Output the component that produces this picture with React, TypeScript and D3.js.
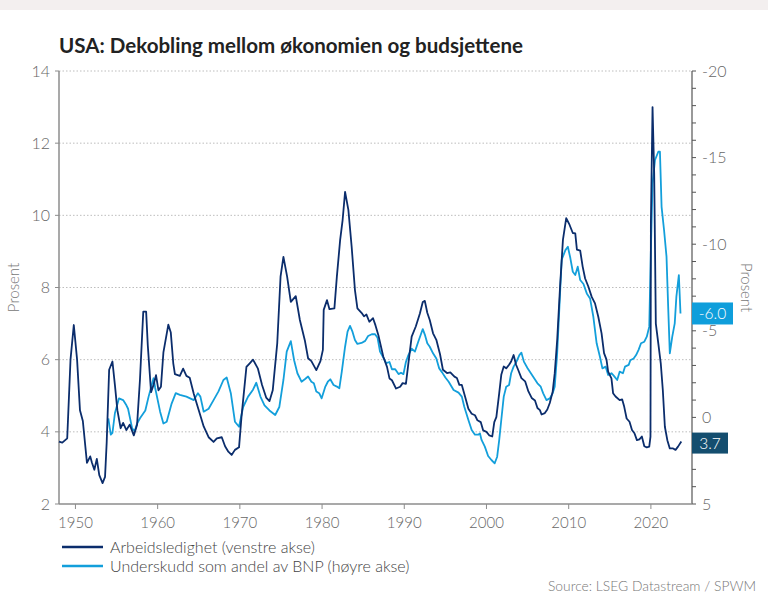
import React from "react";
import * as d3 from "d3";

// Unemployment rate, % (left axis) — [year, value]
const unemployment: [number, number][] = [
  [1948.0, 3.73], [1948.4, 3.7], [1949.0, 3.82], [1949.4, 6.0], [1949.8, 6.96],
  [1950.2, 6.0], [1950.55, 4.6], [1950.9, 4.3], [1951.4, 3.14], [1951.8, 3.32],
  [1952.0, 3.15], [1952.3, 2.95], [1952.6, 3.25], [1952.9, 2.8], [1953.3, 2.58],
  [1953.6, 2.75], [1953.8, 3.7], [1954.1, 5.72], [1954.5, 5.95], [1954.8, 5.3],
  [1955.1, 4.6], [1955.5, 4.1], [1955.8, 4.25], [1956.2, 4.05], [1956.6, 4.2],
  [1957.1, 3.9], [1957.5, 4.2], [1957.85, 5.45], [1958.25, 7.33], [1958.6, 7.33],
  [1958.8, 6.4], [1959.2, 5.1], [1959.5, 5.3], [1959.8, 5.57], [1960.1, 5.15],
  [1960.4, 5.25], [1960.7, 6.2], [1961.3, 6.97], [1961.6, 6.75], [1961.9, 5.9],
  [1962.1, 5.6], [1962.7, 5.55], [1963.1, 5.75], [1963.5, 5.55], [1963.9, 5.5],
  [1964.4, 5.05], [1965.0, 4.6], [1965.6, 4.15], [1966.2, 3.85], [1966.8, 3.72],
  [1967.2, 3.82], [1967.8, 3.85], [1968.2, 3.6], [1968.6, 3.45], [1969.0, 3.36],
  [1969.4, 3.5], [1969.9, 3.57], [1970.2, 4.42], [1970.8, 5.8], [1971.2, 5.9],
  [1971.6, 6.0], [1972.2, 5.75], [1972.7, 5.3], [1973.2, 4.95], [1973.6, 4.85],
  [1974.0, 5.15], [1974.55, 6.46], [1974.95, 8.3], [1975.3, 8.85], [1975.75, 8.3],
  [1976.2, 7.6], [1976.8, 7.76], [1977.3, 7.1], [1977.9, 6.54], [1978.3, 6.04],
  [1978.7, 5.96], [1979.3, 5.71], [1979.8, 5.96], [1980.1, 6.27], [1980.2, 7.38],
  [1980.6, 7.65], [1980.9, 7.4], [1981.5, 7.42], [1981.8, 8.3], [1982.2, 9.32],
  [1982.5, 9.87], [1982.8, 10.65], [1983.2, 10.15], [1983.6, 9.13], [1984.0, 7.93],
  [1984.3, 7.42], [1984.8, 7.3], [1985.1, 7.2], [1985.4, 7.25], [1985.75, 7.05],
  [1986.2, 7.15], [1986.5, 6.95], [1986.85, 6.68], [1987.45, 6.08], [1987.9, 5.8],
  [1988.2, 5.48], [1988.5, 5.43], [1989.0, 5.2], [1989.5, 5.25], [1989.8, 5.35],
  [1990.2, 5.33], [1990.5, 5.9], [1990.9, 6.64], [1991.4, 6.92], [1991.9, 7.28],
  [1992.25, 7.6], [1992.5, 7.63], [1992.8, 7.3], [1993.1, 7.1], [1993.5, 6.73],
  [1993.9, 6.55], [1994.35, 6.15], [1994.7, 5.72], [1995.2, 5.63], [1995.6, 5.65],
  [1996.1, 5.53], [1996.4, 5.49], [1996.7, 5.3], [1997.0, 5.3], [1997.4, 4.97],
  [1997.8, 4.64], [1998.2, 4.5], [1998.6, 4.46], [1998.9, 4.32], [1999.3, 4.27],
  [1999.6, 4.04], [2000.0, 4.0], [2000.35, 3.9], [2000.7, 3.87], [2000.95, 4.27],
  [2001.2, 4.41], [2001.55, 5.07], [2001.8, 5.58], [2002.1, 5.81], [2002.4, 5.76],
  [2002.75, 5.86], [2003.0, 5.95], [2003.3, 6.13], [2003.6, 5.86], [2003.85, 5.72],
  [2004.25, 5.49], [2004.7, 5.4], [2005.1, 5.12], [2005.5, 4.94], [2005.9, 4.87],
  [2006.2, 4.66], [2006.5, 4.6], [2006.7, 4.48], [2007.1, 4.52], [2007.4, 4.62],
  [2007.7, 4.8], [2008.05, 5.11], [2008.3, 5.62], [2008.6, 6.54], [2008.95, 8.02],
  [2009.3, 9.32], [2009.7, 9.92], [2010.1, 9.74], [2010.5, 9.51], [2010.8, 9.5],
  [2011.0, 9.05], [2011.4, 9.02], [2011.7, 8.58], [2012.0, 8.25], [2012.4, 8.02],
  [2012.8, 7.74], [2013.2, 7.56], [2013.6, 7.19], [2014.0, 6.73], [2014.3, 6.18],
  [2014.6, 6.0], [2014.8, 5.67], [2015.2, 5.48], [2015.4, 5.07], [2015.7, 4.98],
  [2016.2, 4.88], [2016.5, 4.9], [2016.75, 4.7], [2017.05, 4.37], [2017.4, 4.28],
  [2017.7, 4.05], [2018.0, 3.96], [2018.3, 3.77], [2018.6, 3.79], [2018.9, 3.87],
  [2019.2, 3.6], [2019.5, 3.57], [2019.8, 3.59], [2019.95, 3.87], [2020.0, 9.78],
  [2020.2, 13.0], [2020.4, 11.16], [2020.6, 7.0], [2020.9, 6.45], [2021.2, 5.9],
  [2021.45, 5.16], [2021.7, 4.14], [2022.0, 3.77], [2022.3, 3.54], [2022.7, 3.54],
  [2023.0, 3.5], [2023.3, 3.59], [2023.7, 3.73],
];

// Budget balance, % of GDP (right axis, inverted) — [year, value]
const deficit: [number, number][] = [
  [1954.0, 0.05], [1954.3, 1.0], [1954.5, 0.9], [1954.8, -0.24], [1955.3, -1.1],
  [1955.8, -1.0], [1956.2, -0.7], [1956.4, -0.5], [1956.9, 0.63], [1957.2, 0.8],
  [1957.5, 0.35], [1957.85, 0.05], [1958.5, -0.4], [1958.9, -1.2], [1959.5, -2.26],
  [1959.7, -1.7], [1960.3, -0.33], [1960.7, 0.35], [1961.1, 0.25], [1961.7, -0.8],
  [1962.2, -1.4], [1962.7, -1.3], [1963.5, -1.2], [1964.4, -1.0], [1964.9, -1.4],
  [1965.2, -1.2], [1965.6, -0.33], [1966.2, -0.5], [1966.8, -1.0], [1967.4, -1.5],
  [1968.0, -2.16], [1968.4, -2.3], [1968.9, -1.4], [1969.4, 0.25], [1969.9, 0.54],
  [1970.4, -0.6], [1971.0, -1.2], [1971.6, -1.6], [1972.0, -2.0], [1972.5, -1.2],
  [1973.0, -0.7], [1973.6, -0.4], [1974.3, -0.14], [1974.8, -0.6], [1975.3, -2.16],
  [1975.7, -3.8], [1976.2, -4.4], [1976.6, -3.3], [1977.0, -2.55], [1977.5, -2.06],
  [1977.9, -2.2], [1978.3, -2.36], [1978.7, -2.06], [1979.0, -1.97], [1979.3, -1.5],
  [1979.65, -1.4], [1979.95, -1.1], [1980.4, -1.78], [1980.7, -2.06], [1981.0, -2.2],
  [1981.4, -1.87], [1981.8, -1.78], [1982.1, -1.68], [1982.4, -2.64], [1982.8, -4.08],
  [1983.1, -4.95], [1983.4, -5.28], [1983.7, -4.95], [1984.0, -4.47], [1984.3, -4.24],
  [1984.8, -4.3], [1985.25, -4.42], [1985.6, -4.7], [1986.05, -4.8], [1986.45, -4.8],
  [1986.75, -4.6], [1987.05, -3.8], [1987.4, -3.5], [1987.8, -3.13], [1988.2, -3.2],
  [1988.5, -2.78], [1988.9, -2.78], [1989.3, -2.5], [1989.6, -2.58], [1989.9, -2.5],
  [1990.2, -3.2], [1990.5, -3.6], [1990.9, -3.97], [1991.3, -3.8], [1991.7, -4.37],
  [1992.25, -5.1], [1992.5, -4.78], [1992.8, -4.28], [1993.1, -4.08], [1993.5, -3.7],
  [1993.9, -3.4], [1994.25, -2.83], [1994.6, -2.6], [1995.0, -2.3], [1995.4, -2.06],
  [1996.0, -1.58], [1996.6, -1.43], [1997.0, -1.2], [1997.3, -0.62], [1997.8, 0.15],
  [1998.2, 0.73], [1998.6, 1.0], [1999.0, 1.0], [1999.2, 0.92], [1999.4, 1.3],
  [1999.8, 1.69], [2000.2, 2.23], [2000.6, 2.46], [2001.0, 2.65], [2001.3, 2.27],
  [2001.55, 1.3], [2001.8, 0.15], [2002.1, -1.2], [2002.4, -1.77], [2002.75, -1.87],
  [2003.0, -2.55], [2003.3, -2.93], [2003.65, -3.22], [2004.0, -3.6], [2004.25, -3.74],
  [2004.55, -3.22], [2005.0, -2.84], [2005.4, -2.55], [2005.8, -2.26], [2006.2, -1.97],
  [2006.6, -1.77], [2006.9, -1.39], [2007.3, -1.0], [2007.7, -1.1], [2008.05, -1.39],
  [2008.3, -1.77], [2008.6, -3.7], [2008.95, -7.16], [2009.15, -9.1], [2009.6, -9.66],
  [2009.9, -9.85], [2010.2, -9.2], [2010.5, -8.41], [2010.8, -8.22], [2011.1, -8.7],
  [2011.4, -7.93], [2011.8, -7.7], [2012.2, -7.16], [2012.6, -6.87], [2013.0, -5.81],
  [2013.4, -4.28], [2013.8, -3.5], [2014.1, -2.83], [2014.5, -2.93], [2014.8, -2.45],
  [2015.2, -2.55], [2015.5, -2.4], [2015.9, -2.16], [2016.2, -2.64], [2016.6, -2.55],
  [2016.85, -2.93], [2017.3, -3.03], [2017.5, -3.3], [2017.9, -3.4], [2018.2, -3.6],
  [2018.5, -3.9], [2018.8, -4.28], [2019.2, -4.37], [2019.5, -4.66], [2019.8, -5.24],
  [2020.0, -9.66], [2020.2, -13.5], [2020.5, -14.86], [2020.9, -15.34], [2021.1, -15.34],
  [2021.3, -12.16], [2021.6, -10.82], [2021.9, -9.28], [2022.1, -6.4], [2022.3, -3.7],
  [2022.6, -4.66], [2022.9, -5.43], [2023.1, -6.97], [2023.4, -8.22], [2023.6, -6.0],
];

const xTicks = [1950, 1960, 1970, 1980, 1990, 2000, 2010, 2020];
const leftTicks = [2, 4, 6, 8, 10, 12, 14];
const rightMajor = [-20, -15, -10, -5, 0, 5];
const rightMinor = d3.range(-20, 6, 1);

const title = "USA: Dekobling mellom økonomien og budsjettene";
const seriesNames = ["Arbeidsledighet (venstre akse)", "Underskudd som andel av BNP (høyre akse)"];
const source = "Source: LSEG Datastream / SPWM";

const W = 768;
const H = 607;
const margin = { top: 71, right: 76, bottom: 103, left: 59 };
const DARK = "#0b2d6c";
const LIGHT = "#139fdb";
const FONT = "Lato, 'Open Sans', sans-serif";

export default function App() {
  const x = d3.scaleLinear().domain([1948, 2025]).range([margin.left, W - margin.right]);
  const yL = d3.scaleLinear().domain([2, 14]).range([H - margin.bottom, margin.top]);
  const yR = d3.scaleLinear().domain([5, -20]).range([H - margin.bottom, margin.top]);

  const lineL = d3.line<[number, number]>().x((d) => x(d[0])).y((d) => yL(d[1]));
  const lineR = d3.line<[number, number]>().x((d) => x(d[0])).y((d) => yR(d[1]));

  const x0 = x.range()[0];
  const x1 = x.range()[1];
  const yBottom = yL.range()[0];
  const lastU = unemployment[unemployment.length - 1][1];
  const lastD = deficit[deficit.length - 1][1];

  return (
    <svg
      width={W}
      height={H}
      style={{ position: "absolute", left: 0, top: 0, background: "#fff" }}
      fontFamily={FONT}
    >
      <rect x={0} y={0} width={W} height={10} fill="#f3efef" />

      <text x={59} y={53} fontSize={20} fontWeight={700} fill="#222" textLength={464} lengthAdjust="spacingAndGlyphs">
        {title}
      </text>

      {/* grid */}
      {leftTicks.slice(1).map((t) => (
        <line key={t} x1={x0} x2={x1} y1={yL(t)} y2={yL(t)} stroke="#bdbdbd" strokeDasharray="1.5,2" />
      ))}

      {/* left axis */}
      <line x1={x0} x2={x0} y1={yL(14)} y2={yBottom} stroke="#8c8c8c" strokeWidth={1.5} />
      {leftTicks.map((t) => (
        <g key={t}>
          <line x1={x0 - 4} x2={x0} y1={yL(t)} y2={yL(t)} stroke="#8c8c8c" />
          <text x={x0 - 9} y={yL(t)} dy="0.35em" textAnchor="end" fontSize={16} fontWeight={300} fill="#666">
            {t}
          </text>
        </g>
      ))}
      <text
        transform={`translate(19,${(yL(14) + yBottom) / 2}) rotate(-90)`}
        textAnchor="middle"
        fontSize={15}
        fontWeight={300}
        fill="#777"
      >
        Prosent
      </text>

      {/* right axis */}
      <line x1={x1} x2={x1} y1={yR(-20)} y2={yBottom} stroke="#555" strokeWidth={1.2} />
      {rightMinor.map((t) => (
        <line key={t} x1={x1} x2={x1 + 4} y1={yR(t)} y2={yR(t)} stroke="#555" />
      ))}
      {rightMajor.map((t) => (
        <text key={t} x={x1 + 10} y={yR(t)} dy="0.35em" fontSize={16} fontWeight={300} fill="#666">
          {t}
        </text>
      ))}
      <text
        transform={`translate(741,${(yL(14) + yBottom) / 2}) rotate(90)`}
        textAnchor="middle"
        fontSize={15}
        fontWeight={300}
        fill="#777"
      >
        Prosent
      </text>

      {/* bottom axis */}
      <line x1={x0} x2={x1} y1={yBottom} y2={yBottom} stroke="#8c8c8c" strokeWidth={1.5} />
      {xTicks.map((t) => (
        <g key={t}>
          <line x1={x(t)} x2={x(t)} y1={yBottom} y2={yBottom + 5} stroke="#8c8c8c" />
          <text x={x(t)} y={yBottom + 24} textAnchor="middle" fontSize={15} fontWeight={300} fill="#666">
            {t}
          </text>
        </g>
      ))}

      {/* series */}
      <path d={lineR(deficit) ?? ""} fill="none" stroke={LIGHT} strokeWidth={1.8} strokeLinejoin="round" />
      <path d={lineL(unemployment) ?? ""} fill="none" stroke={DARK} strokeWidth={1.8} strokeLinejoin="round" />

      {/* end labels */}
      <rect x={x1} y={yR(lastD) - 11} width={41} height={22} fill="#0f9edb" />
      <text x={x1 + 20.5} y={yR(lastD)} dy="0.36em" textAnchor="middle" fontSize={15.5} fontWeight={300} fill="#fff">
        {lastD.toFixed(1)}
      </text>
      <rect x={x1} y={yL(lastU) - 9} width={36} height={21} fill="#144e6f" />
      <text x={x1 + 18} y={yL(lastU) + 1.5} dy="0.36em" textAnchor="middle" fontSize={15.5} fontWeight={300} fill="#fff">
        {lastU.toFixed(1)}
      </text>

      {/* legend */}
      {seriesNames.map((name, i) => (
        <g key={name} transform={`translate(62,${547 + i * 19})`}>
          <line x1={0} x2={41} y1={0} y2={0} stroke={i === 0 ? DARK : LIGHT} strokeWidth={2.5} />
          <text x={48} y={0} dy="0.35em" fontSize={16} fontWeight={300} fill="#444">
            {name}
          </text>
        </g>
      ))}

      <text x={756} y={591} textAnchor="end" fontSize={13} fontWeight={300} fill="#777" textLength={208} lengthAdjust="spacingAndGlyphs">
        {source}
      </text>
    </svg>
  );
}
